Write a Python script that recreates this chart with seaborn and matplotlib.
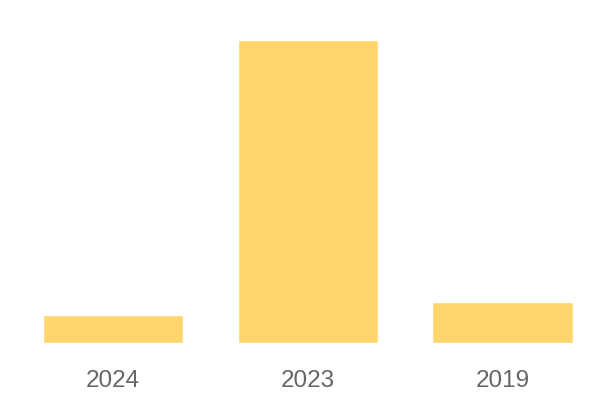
import matplotlib
matplotlib.use("Agg")
import matplotlib.pyplot as plt
import seaborn as sns
import pandas as pd

# data
years = ["2024", "2023", "2019"]
counts = [2, 22, 3]

bar_color = "#FFD66B"
label_color = "#666666"

sns.set_theme(style="white")
plt.rcParams["font.family"] = ["Liberation Sans", "DejaVu Sans"]

df = pd.DataFrame({"year": years, "count": counts})

fig = plt.figure(figsize=(6, 4), dpi=100)
ax = fig.add_axes([15.5 / 600, 57 / 400, 584.5 / 600, 343 / 400])
sns.barplot(data=df, x="year", y="count", color=bar_color, width=0.72,
            saturation=1, ax=ax)

ax.set_ylim(0, 24.9)
ax.set_xlabel("")
ax.set_ylabel("")
ax.set_yticks([])
ax.tick_params(axis="x", length=0, pad=19.5, labelsize=17.5, labelcolor=label_color)
sns.despine(ax=ax, left=True, bottom=True)

fig.savefig("out.png", dpi=100)
